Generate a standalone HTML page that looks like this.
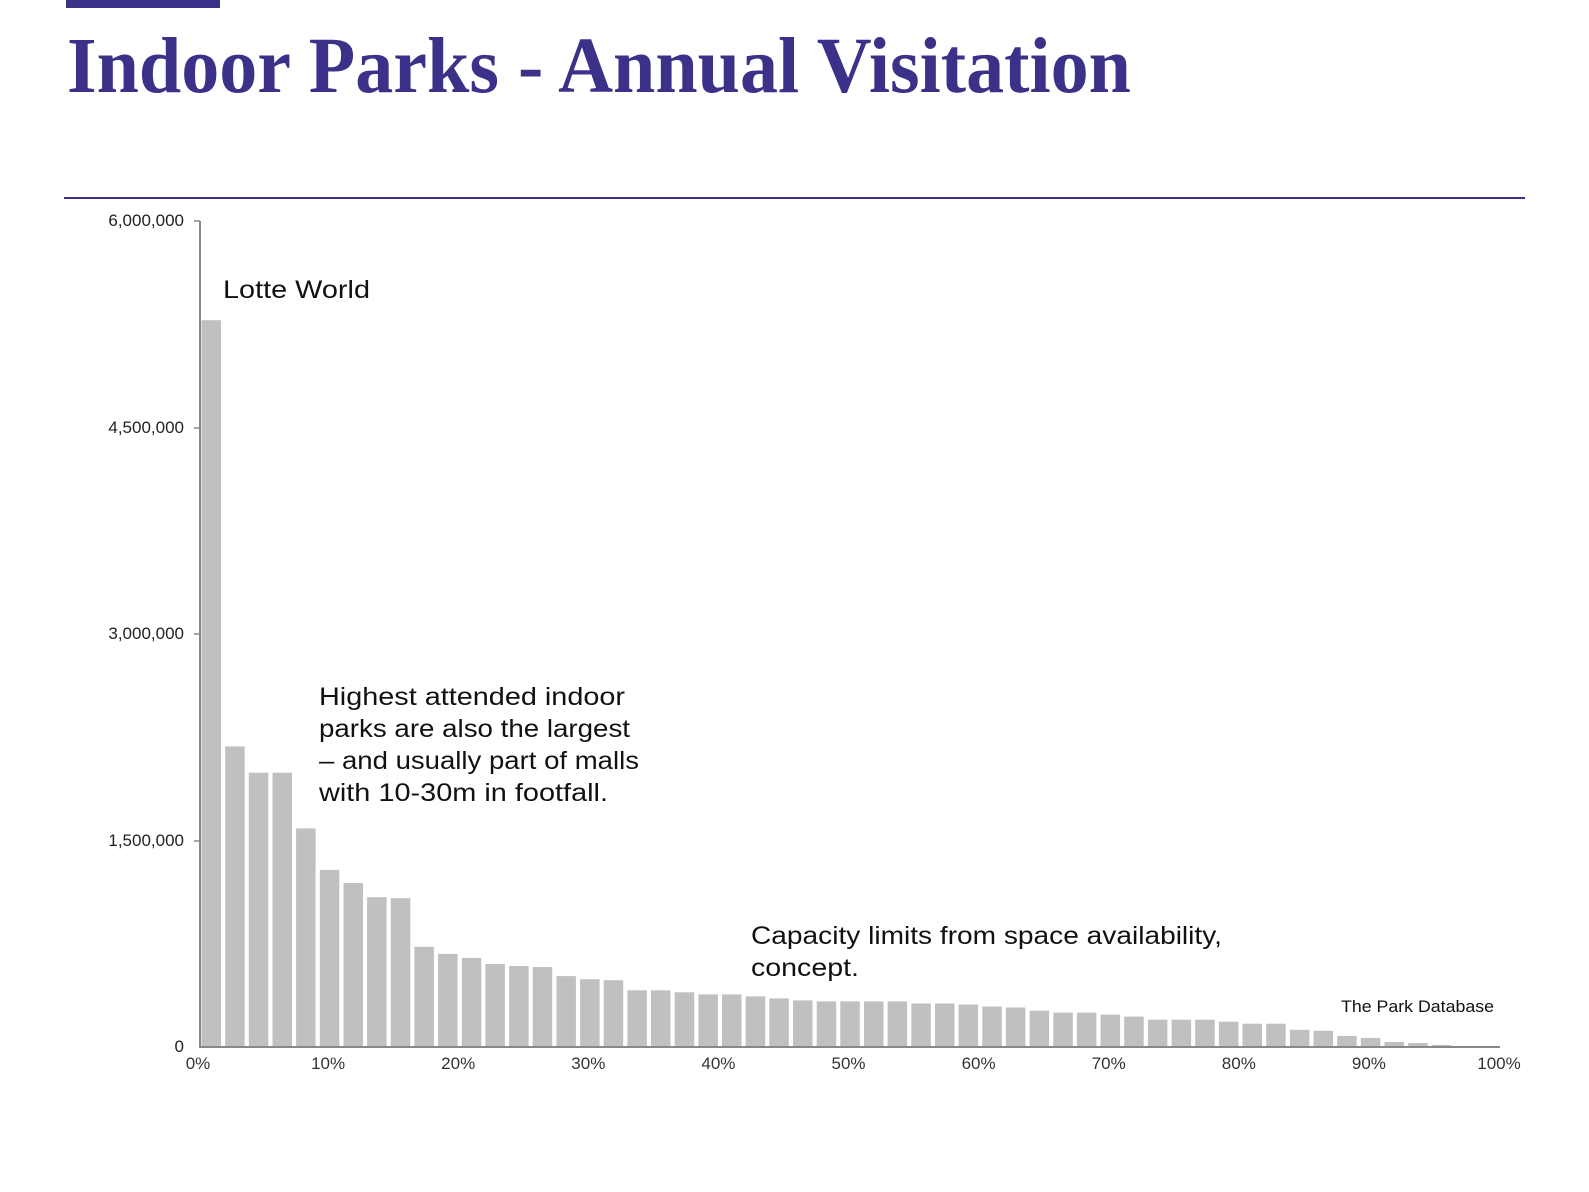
<!DOCTYPE html>
<html><head><style>
body{margin:0;background:#fff;width:1589px;height:1192px;overflow:hidden;position:relative;font-family:"Liberation Sans",sans-serif}
</style></head><body>
<div style="position:absolute;left:66px;top:0;width:154px;height:8px;background:#3b3188"></div>
<div style="position:absolute;left:64px;top:197px;width:1461px;height:2px;background:#3b3188"></div>
<svg width="1589" height="1192" style="position:absolute;left:0;top:0" font-family="Liberation Sans, sans-serif">
<text x="67" y="92" font-family="Liberation Serif, serif" font-weight="bold" font-size="79" fill="#3b3188" textLength="1064" lengthAdjust="spacingAndGlyphs">Indoor Parks - Annual Visitation</text>
<g id="bars" fill="#c0c0c0"></g>
<line x1="200" y1="221" x2="200" y2="1048" stroke="#888" stroke-width="2"/>
<line x1="199" y1="1047" x2="1500" y2="1047" stroke="#888" stroke-width="2"/>
<g font-size="17" fill="#222" text-anchor="end">
<text x="184" y="226">6,000,000</text><text x="184" y="433">4,500,000</text>
<text x="184" y="639">3,000,000</text><text x="184" y="846">1,500,000</text><text x="184" y="1052">0</text>
</g>
<g stroke="#888" stroke-width="1.5"><line x1="194" y1="221" x2="200" y2="221"/><line x1="194" y1="428" x2="200" y2="428"/><line x1="194" y1="634" x2="200" y2="634"/><line x1="194" y1="841" x2="200" y2="841"/></g>
<g font-size="17" fill="#333" text-anchor="middle" id="xl"></g>
<g font-size="25" fill="#111">
<text x="223" y="298" textLength="147" lengthAdjust="spacingAndGlyphs">Lotte World</text>
<text x="319" y="705" textLength="306" lengthAdjust="spacingAndGlyphs">Highest attended indoor</text>
<text x="319" y="737" textLength="311" lengthAdjust="spacingAndGlyphs">parks are also the largest</text>
<text x="319" y="769" textLength="320" lengthAdjust="spacingAndGlyphs">– and usually part of malls</text>
<text x="319" y="801" textLength="289" lengthAdjust="spacingAndGlyphs">with 10-30m in footfall.</text>
<text x="751" y="944" textLength="471" lengthAdjust="spacingAndGlyphs">Capacity limits from space availability,</text>
<text x="751" y="976" textLength="108" lengthAdjust="spacingAndGlyphs">concept.</text>
</g>
<text x="1341" y="1012" font-size="17" fill="#111" textLength="153" lengthAdjust="spacingAndGlyphs">The Park Database</text>
</svg>
<script>
var tops=[314,735,761,761,816,857,870,884,885,933,940,944,950,952,953,962,965,966,976,976,978,980,980,982,984,986,987,987,987,987,989,989,990,992,993,996,998,998,1000,1002,1005,1005,1005,1007,1009,1009,1015,1016,1021,1023,1027,1028,1030,1031];
var g=document.getElementById('bars'),s='';
var pitch=23.66;
for(var i=0;i<tops.length;i++){var x=201.5+i*pitch;var y=221+(tops[i]-216)*826/816;s+='<rect x="'+x.toFixed(1)+'" y="'+y.toFixed(1)+'" width="19.5" height="'+(1047-y).toFixed(1)+'"/>';}
g.innerHTML=s;
var xl='';for(var k=0;k<=10;k++){var x=198+k*130.1;xl+='<text x="'+x.toFixed(1)+'" y="1069">'+(k*10)+'%</text>';}
document.getElementById('xl').innerHTML=xl;
</script>
</body></html>
